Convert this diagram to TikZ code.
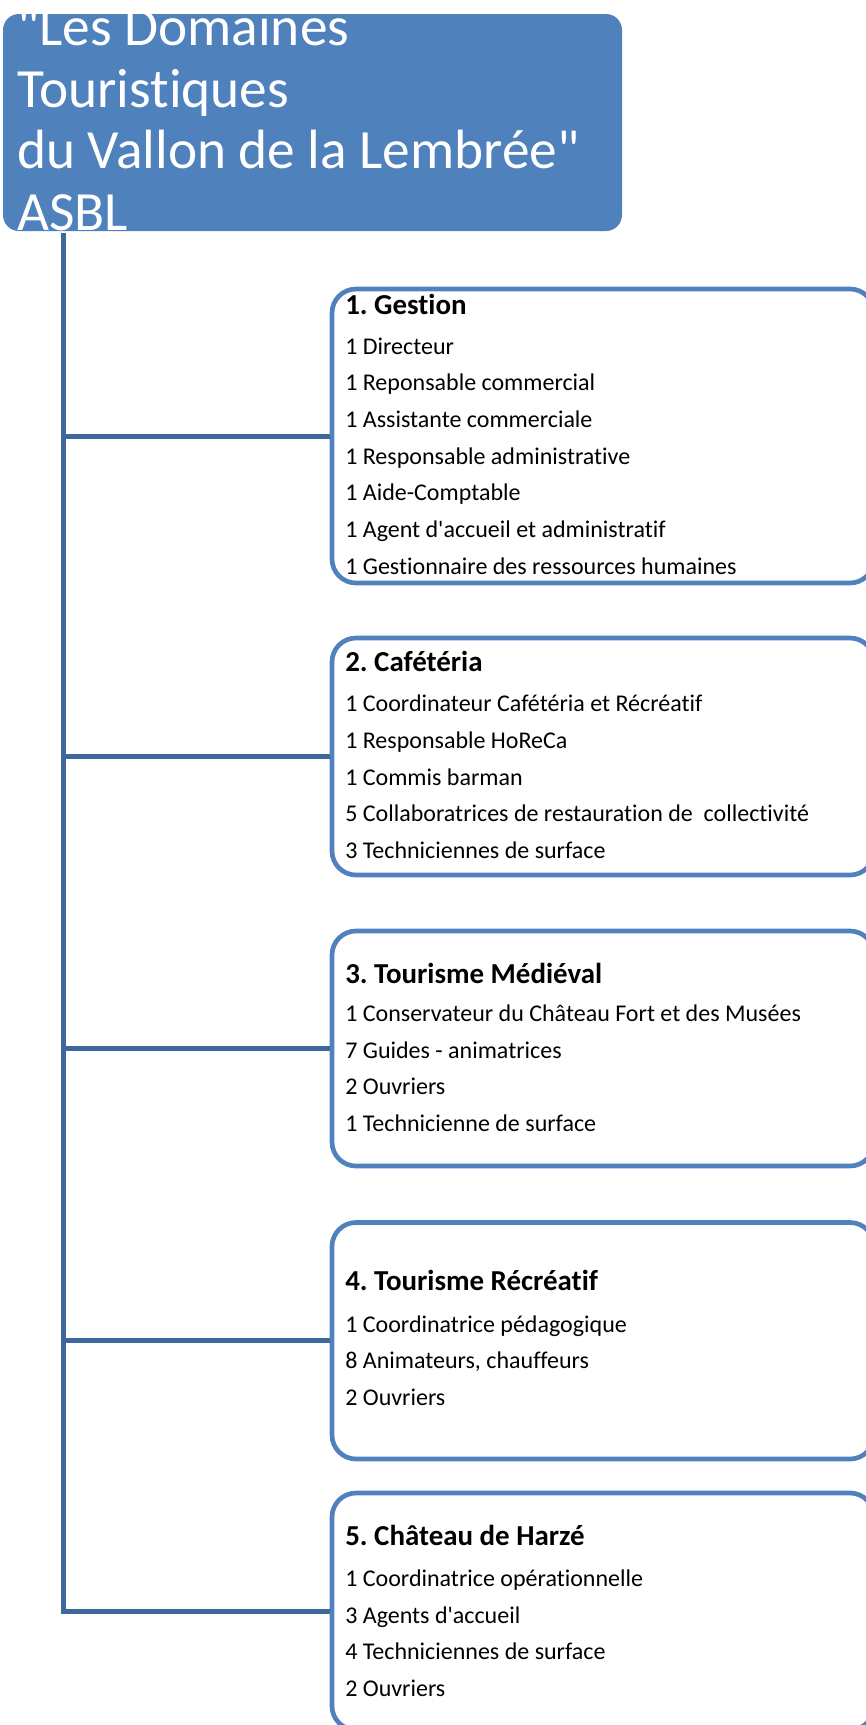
\documentclass[tikz,border=0pt]{standalone}
\usepackage{fontspec}
\setmainfont{Carlito}[Ligatures=NoCommon]
\usetikzlibrary{fit}
\definecolor{boxblue}{RGB}{79,129,189}
\definecolor{lineblue}{RGB}{62,104,155}
\newcommand{\apos}{\textquotesingle}
\newcommand{\dquote}{\textquotedbl}
\frenchspacing

\tikzset{
  rootbox/.style={fill=boxblue, rounded corners=12pt, inner sep=0pt},
  groupbox/.style={draw=boxblue, line width=3.5pt, rounded corners=18pt, inner sep=0pt},
  branch/.style={draw=lineblue, line width=3.75pt},
  roottext/.style={text=white, font=\fontsize{41.5}{46}\selectfont, anchor=base west, inner sep=0pt},
  grouptitle/.style={font=\bfseries\fontsize{21.7}{26}\selectfont, anchor=base west, inner sep=0pt},
  groupitem/.style={font=\fontsize{18}{22}\selectfont, anchor=base west, inner sep=0pt}
}

\begin{document}
\begin{tikzpicture}[x=0.75pt,y=-0.75pt]
        \useasboundingbox (0,0) rectangle (866,1725);
        % root
        \node[rootbox, fit={(3,14) (622,231)}] (root) {};
        \begin{scope}
        \clip (0,14) rectangle (866,1725);
        \node[roottext] (root-1) at (17,45) {\dquote Les Domaines};
        \node[roottext] (root-2) at (17,107) {Touristiques};
        \node[roottext] (root-3) at (17,168) {du Vallon de la Lembrée\dquote};
        \node[roottext] (root-4) at (17,230) {ASBL};
        \end{scope}
        % groups
        \node[groupbox, fit={(332,289) (874,583)}] (gestion) {};
        \node[grouptitle] (gestion-t) at (345,314) {1. Gestion};
        \foreach \txt [count=\k from 0] in {1 Directeur, 1 Reponsable commercial,
            1 Assistante commerciale, 1 Responsable administrative, 1 Aide-Comptable,
            1 Agent d\apos accueil et administratif, 1 Gestionnaire des ressources humaines}
            \node[groupitem] (gestion-\k) at (345,{354+36.7*\k}) {\txt};

        \node[groupbox, fit={(332,638) (874,875)}] (cafe) {};
        \node[grouptitle] (cafe-t) at (345,671.6) {2. Cafétéria};
        \foreach \txt [count=\k from 0] in {1 Coordinateur Cafétéria et Récréatif,
            1 Responsable HoReCa, 1 Commis barman,
            5 Collaboratrices de restauration de \ collectivité, 3 Techniciennes de surface}
            \node[groupitem] (cafe-\k) at (345,{711.6+36.7*\k}) {\txt};

        \node[groupbox, fit={(332,931) (874,1166)}] (medieval) {};
        \node[grouptitle] (medieval-t) at (345,983) {3. Tourisme Médiéval};
        \foreach \txt [count=\k from 0] in {1 Conservateur du Château Fort et des Musées,
            7 Guides - animatrices, 2 Ouvriers, 1 Technicienne de surface}
            \node[groupitem] (medieval-\k) at (345,{1021.5+36.7*\k}) {\txt};

        \node[groupbox, fit={(332,1222.5) (874,1459)}] (recreatif) {};
        \node[grouptitle] (recreatif-t) at (345,1290) {4. Tourisme Récréatif};
        \foreach \txt [count=\k from 0] in {1 Coordinatrice pédagogique,
            {8 Animateurs, chauffeurs}, 2 Ouvriers}
            \node[groupitem] (recreatif-\k) at (345,{1332+36.7*\k}) {\txt};

        \node[groupbox, fit={(332,1493) (874,1730)}] (harze) {};
        \node[grouptitle] (harze-t) at (345,1545) {5. Château de Harzé};
        \foreach \txt [count=\k from 0] in {1 Coordinatrice opérationnelle,
            3 Agents d\apos accueil, 4 Techniciennes de surface, 2 Ouvriers}
            \node[groupitem] (harze-\k) at (345,{1586.5+36.7*\k}) {\txt};
        % branches
        \coordinate (trunk) at (63,233);
        \draw[branch] (trunk) |- (gestion.west);
        \draw[branch] (trunk) |- (cafe.west);
        \draw[branch] (trunk) |- (medieval.west);
        \draw[branch] (trunk) |- (recreatif.west);
        \draw[branch] (trunk) |- (harze.west);
\end{tikzpicture}
\end{document}
